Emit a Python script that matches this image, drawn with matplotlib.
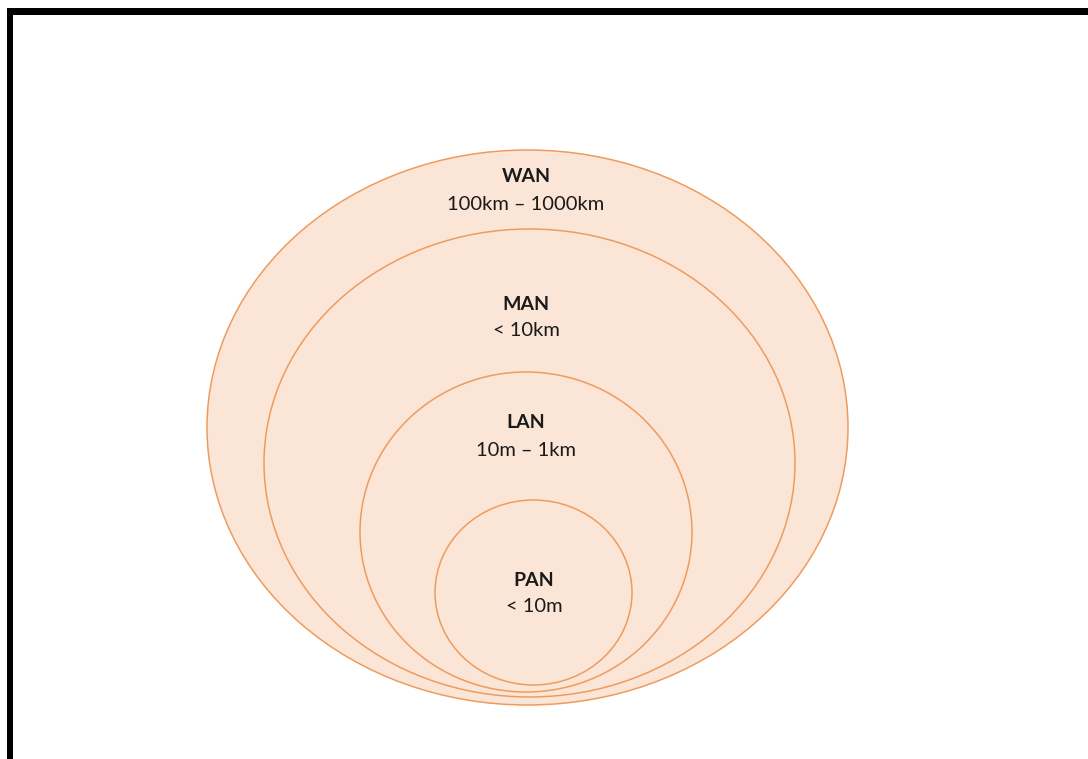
import matplotlib
matplotlib.use("Agg")
import matplotlib.pyplot as plt
from matplotlib.patches import Ellipse, Rectangle

# Network types (outermost first)
names = ["WAN", "MAN", "LAN", "PAN"]
ranges = ["100km – 1000km", "< 10km", "10m – 1km", "< 10m"]
# ellipse geometry in pixel space: center x, center y, width, height
cx = [527.5, 529.5, 526.0, 533.5]
cy = [427.5, 463.0, 532.0, 592.5]
ew = [641, 531, 332, 197]
eh = [555, 468, 320, 185]
# label positions (name line y)
label_y = [177, 304, 423, 580]
label_x = [526, 526, 526, 534]

fill_color = "#FBE5D7"
edge_color = "#EE9C5E"

fig = plt.figure(figsize=(10.88, 7.59), dpi=100)
ax = fig.add_axes([0, 0, 1, 1])
ax.set_xlim(0, 1088)
ax.set_ylim(759, 0)
ax.axis("off")

for i in range(len(names)):
    e = Ellipse((cx[i], cy[i]), ew[i], eh[i], facecolor=fill_color,
                edgecolor=edge_color, linewidth=1.1, zorder=2 + i)
    ax.add_patch(e)

for i in range(len(names)):
    ax.text(label_x[i], label_y[i], names[i], ha="center", va="center",
            fontsize=14, fontweight="bold", family="Lato", color="#1a1a1a", zorder=10)
    ax.text(label_x[i], label_y[i] + 27, ranges[i], ha="center", va="center",
            fontsize=14.5, family="Lato", color="#1a1a1a", zorder=10)

# frame: top and left thick black lines
ax.add_patch(Rectangle((7, 8), 1088 - 7, 7, facecolor="black", edgecolor="none", zorder=20))
ax.add_patch(Rectangle((7, 8), 6, 759 - 8, facecolor="black", edgecolor="none", zorder=20))

fig.savefig("out.png", dpi=100)
